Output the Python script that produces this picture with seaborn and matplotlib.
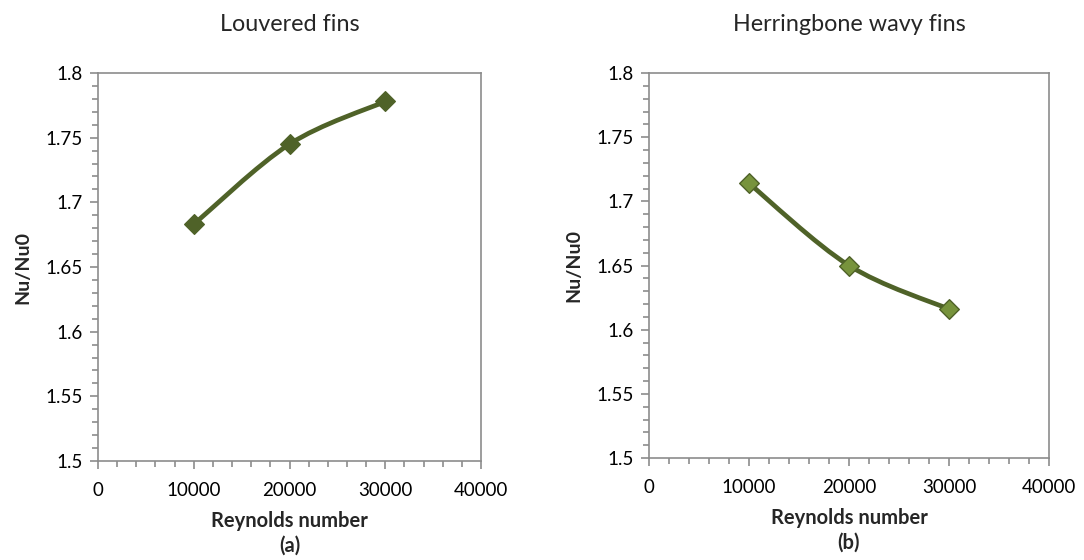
import numpy as np
import pandas as pd
import matplotlib
matplotlib.use("Agg")
import matplotlib.pyplot as plt
from matplotlib.path import Path
from matplotlib.patches import PathPatch
from matplotlib.ticker import MultipleLocator, FuncFormatter
import seaborn as sns

# Data
reynolds = [10000, 20000, 30000]
nu_louvered = [1.683, 1.745, 1.778]
nu_herringbone = [1.714, 1.650, 1.616]
titles = ["Louvered fins", "Herringbone wavy fins"]
panel_tags = ["(a)", "(b)"]

sns.set_theme(style="white")
plt.rcParams["font.family"] = ["Lato", "DejaVu Sans"]

LINE = "#4F6228"
GREY = "#8C8C8C"

fig = plt.figure(figsize=(10.84, 5.60), dpi=100)
ax_a = fig.add_axes([98 / 1084, 99 / 560, 383 / 1084, 388 / 560])
ax_b = fig.add_axes([649 / 1084, 102 / 560, 400 / 1084, 385 / 560])


def smooth_path(xs, ys):
    """Bezier path through the points, tangents from neighbouring points."""
    pts = np.column_stack([xs, ys]).astype(float)
    n = len(pts)
    verts = [pts[0]]
    codes = [Path.MOVETO]
    for i in range(n - 1):
        p_prev = pts[max(i - 1, 0)]
        p0, p1 = pts[i], pts[i + 1]
        p_next = pts[min(i + 2, n - 1)]
        c1 = p0 + (p1 - p_prev) / 6.0
        c2 = p1 - (p_next - p0) / 6.0
        verts += [c1, c2, p1]
        codes += [Path.CURVE4] * 3
    return Path(verts, codes)


def draw_panel(ax, values, title, tag, face):
    df = pd.DataFrame({"Re": reynolds, "Nu": values})
    ax.add_patch(PathPatch(smooth_path(df["Re"], df["Nu"]), fill=False,
                           edgecolor=LINE, lw=3.4, capstyle="round",
                           joinstyle="round", zorder=2))
    sns.scatterplot(data=df, x="Re", y="Nu", ax=ax, marker="D", s=100,
                    color=face, edgecolor=LINE, linewidth=1.0, zorder=3)

    ax.set_xlim(0, 40000)
    ax.set_ylim(1.5, 1.8)
    ax.xaxis.set_major_locator(MultipleLocator(10000))
    ax.xaxis.set_minor_locator(MultipleLocator(2000))
    ax.yaxis.set_major_locator(MultipleLocator(0.05))
    ax.yaxis.set_minor_locator(MultipleLocator(0.01))
    ax.yaxis.set_major_formatter(
        FuncFormatter(lambda v, p: f"{v:.2f}".rstrip("0").rstrip(".")))

    for side, sp in ax.spines.items():
        sp.set_visible(True)
        sp.set_color(GREY)
        sp.set_linewidth(1.2)
    ax.tick_params(axis="both", which="both", direction="out", color=GREY,
                   width=1.2, top=False, right=False, left=True, bottom=True)
    ax.tick_params(axis="both", which="major", length=6, labelsize=13.5,
                   labelcolor="black")
    ax.tick_params(axis="x", which="major", pad=9)
    ax.tick_params(axis="y", which="major", pad=5)
    ax.tick_params(axis="both", which="minor", length=4)
    ax.grid(False)

    ax.set_xlabel(f"Reynolds number\n{tag}", fontsize=14.5, fontweight="bold",
                  labelpad=9, linespacing=1.25)
    ax.set_ylabel("Nu/Nu0", fontsize=14, fontweight="bold", labelpad=10)
    ax.set_title(title, fontsize=16.8, pad=30)


draw_panel(ax_a, nu_louvered, titles[0], panel_tags[0], LINE)
draw_panel(ax_b, nu_herringbone, titles[1], panel_tags[1], "#77933C")

fig.savefig("out.png", dpi=100, facecolor="white")
